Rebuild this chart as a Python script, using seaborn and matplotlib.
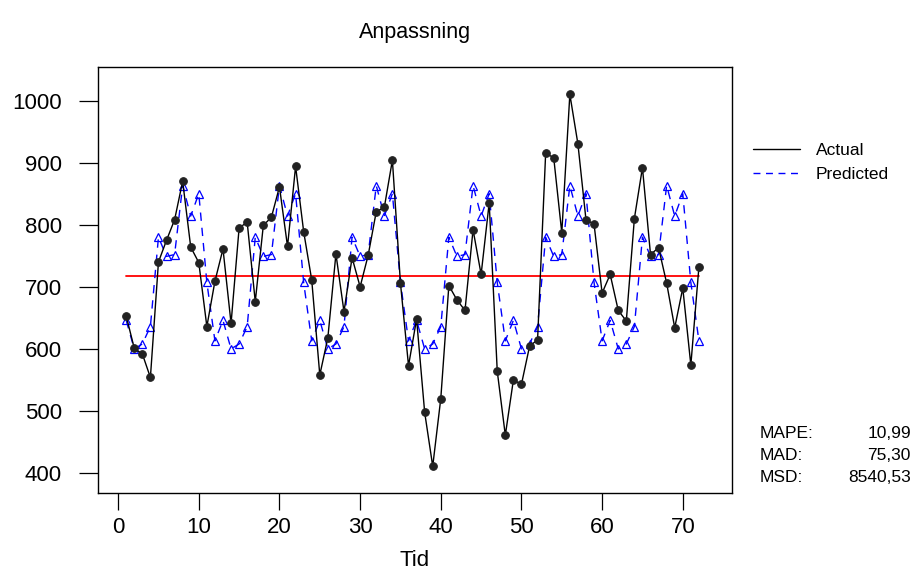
import matplotlib
matplotlib.use("Agg")
import matplotlib.pyplot as plt
from matplotlib.lines import Line2D
import numpy as np
import pandas as pd
import seaborn as sns

# Observed series (Tid 1..72)
actual = [653, 601, 592, 554, 740, 775, 808, 870, 764, 739,
          636, 709, 761, 641, 795, 804, 676, 799, 812, 861,
          765, 894, 789, 711, 558, 618, 753, 660, 747, 700,
          751, 821, 828, 904, 706, 573, 648, 498, 411, 520,
          702, 679, 662, 792, 720, 835, 564, 461, 550, 543,
          604, 615, 915, 908, 787, 1010, 930, 808, 801, 690,
          720, 662, 645, 810, 892, 752, 763, 706, 634, 698,
          574, 732]

# Fitted values of the seasonal model
predicted = [646, 600, 608, 636, 780, 749, 752, 863, 814, 850, 707, 613,
             646, 600, 608, 636, 780, 749, 752, 863, 814, 850, 707, 613,
             646, 600, 608, 636, 780, 749, 752, 863, 814, 850, 707, 613,
             646, 600, 608, 636, 780, 749, 752, 863, 814, 850, 707, 613,
             646, 600, 608, 636, 780, 749, 752, 863, 814, 850, 707, 613,
             646, 600, 608, 636, 780, 749, 752, 863, 814, 850, 707, 613]

# Level of the model
level = 718

accuracy_labels = ["MAPE:", "MAD:", "MSD:"]
accuracy_values = ["10,99", "75,30", "8540,53"]

x_ticks = [0, 10, 20, 30, 40, 50, 60, 70]
y_ticks = [400, 500, 600, 700, 800, 900, 1000]

tid = np.arange(1, len(actual) + 1)
df = pd.DataFrame({"Tid": tid, "Actual": actual, "Predicted": predicted,
                   "Level": [level] * len(tid)})

sns.set_theme(style="white")
plt.rcParams["font.family"] = ["Liberation Sans", "DejaVu Sans"]
plt.rcParams["text.color"] = "black"
plt.rcParams["axes.labelcolor"] = "black"

fig = plt.figure(figsize=(9.19, 5.77), dpi=100)
ax = fig.add_axes([0.1066, 0.1456, 0.6899, 0.7383])

sns.lineplot(data=df, x="Tid", y="Level", ax=ax, color="#ff0000",
             linewidth=1.3, zorder=1)
sns.lineplot(data=df, x="Tid", y="Predicted", ax=ax, color="#0000ff",
             linewidth=1.0, dashes=False, linestyle=(0, (6, 5)),
             marker="^", markersize=6, markerfacecolor="none",
             markeredgecolor="#0000ff", markeredgewidth=0.9, zorder=2)
sns.lineplot(data=df, x="Tid", y="Actual", ax=ax, color="black",
             linewidth=1.0, marker="o", markersize=5.5,
             markerfacecolor="#222222", markeredgecolor="#222222", zorder=3)

ax.set_xlim(-2.5, 76.1)
ax.set_ylim(368, 1054)
ax.set_xticks(x_ticks)
ax.set_yticks(y_ticks)
ax.tick_params(axis="y", direction="out", length=14, width=0.9, pad=12,
               labelsize=16, colors="black", left=True)
ax.tick_params(axis="x", direction="out", length=12, width=0.9, pad=5,
               labelsize=16, colors="black", bottom=True)
for s in ax.spines.values():
    s.set_color("black")
    s.set_linewidth(1.0)

ax.set_ylabel("")
ax.set_xlabel("Tid", fontsize=16, labelpad=9)
ax.set_title("Anpassning", fontsize=15.5, pad=21, color="black")

handles = [Line2D([], [], color="black", linewidth=1.0),
           Line2D([], [], color="#0000ff", linewidth=1.0, linestyle=(0, (5, 4)))]
fig.legend(handles, ["Actual", "Predicted"], loc="upper left",
           bbox_to_anchor=(0.812, 0.765), frameon=False, fontsize=12.5,
           handlelength=2.7, handletextpad=0.9, labelspacing=0.55,
           borderaxespad=0)

ys = [433, 455, 478]
for lab, val, yp in zip(accuracy_labels, accuracy_values, ys):
    fig.text(760 / 919, 1 - yp / 577, lab, ha="left", va="center", fontsize=12.5)
    fig.text(911 / 919, 1 - yp / 577, val, ha="right", va="center", fontsize=12.5)

fig.savefig("out.png", dpi=100)
